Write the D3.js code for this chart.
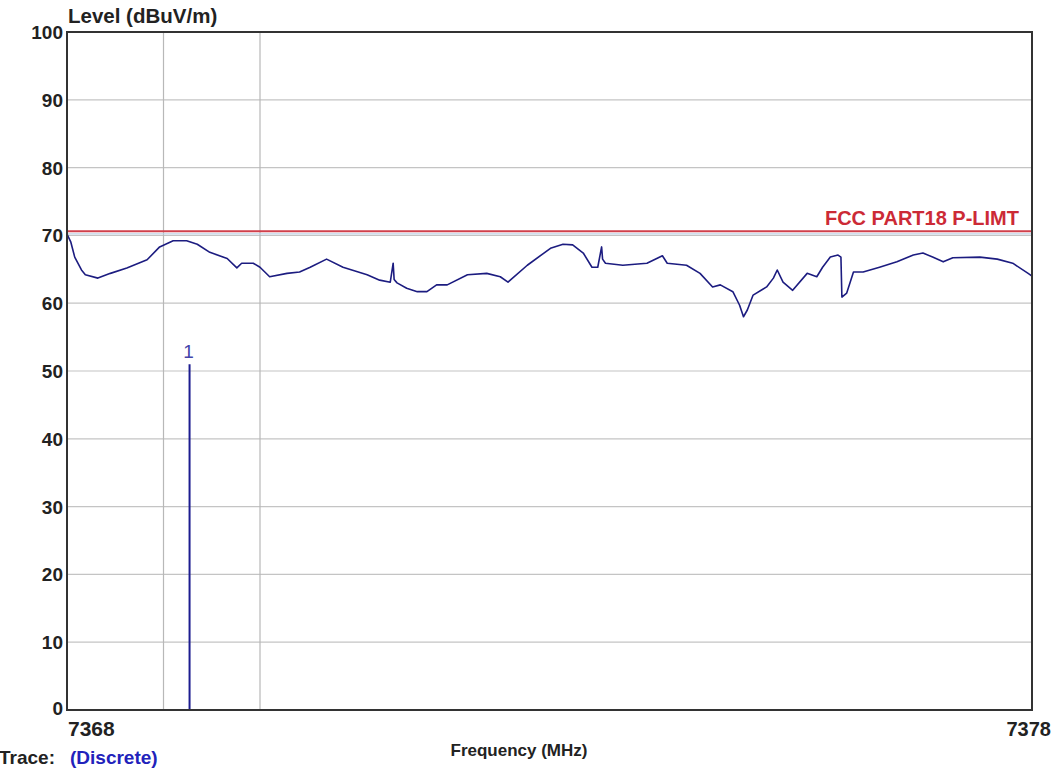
<!DOCTYPE html>
<html><head><meta charset="utf-8">
<script src="https://cdn.jsdelivr.net/npm/d3@7"></script>
<style>
body{margin:0;background:#fff;overflow:hidden}
text{font-family:"Liberation Sans",Arial,sans-serif;font-weight:bold}
</style></head>
<body><svg id="c" width="1053" height="770"></svg>
<script>
// ---- data ----
const yTicks = [0,10,20,30,40,50,60,70,80,90,100];
const xTickLabels = [7368, 7378];
const xGrid = [7369, 7370];
const limitName = "FCC PART18 P-LIMT";
const limitLevel = 70.6;
const markerFreq = [7369.27];
const markerLevel = [51];
const markerLabel = ["1"];
const traceFreq = [7368.00,7368.04,7368.08,7368.15,7368.19,7368.32,7368.45,7368.62,7368.83,7368.96,7369.10,7369.24,7369.35,7369.48,7369.66,7369.76,7369.81,7369.93,7370.00,7370.10,7370.28,7370.41,7370.52,7370.69,7370.86,7371.11,7371.24,7371.35,7371.38,7371.39,7371.42,7371.52,7371.63,7371.73,7371.83,7371.94,7372.15,7372.35,7372.49,7372.57,7372.77,7373.01,7373.14,7373.24,7373.35,7373.44,7373.50,7373.54,7373.55,7373.58,7373.76,7374.01,7374.17,7374.22,7374.42,7374.56,7374.69,7374.77,7374.90,7374.97,7375.01,7375.05,7375.11,7375.25,7375.32,7375.36,7375.42,7375.52,7375.67,7375.77,7375.83,7375.91,7375.99,7376.02,7376.03,7376.08,7376.15,7376.25,7376.42,7376.60,7376.77,7376.87,7376.97,7377.08,7377.18,7377.46,7377.64,7377.80,7377.96,7378.00];
const traceLevel = [70.2,69.0,66.8,64.9,64.2,63.7,64.4,65.2,66.4,68.3,69.2,69.2,68.7,67.5,66.6,65.2,65.9,65.9,65.3,63.9,64.4,64.6,65.3,66.5,65.3,64.2,63.4,63.1,65.9,63.5,63.0,62.2,61.7,61.7,62.7,62.7,64.2,64.4,63.9,63.1,65.6,68.1,68.7,68.6,67.4,65.3,65.3,68.3,66.5,65.9,65.6,65.9,67.0,65.9,65.6,64.4,62.4,62.7,61.7,59.7,58.0,59.0,61.2,62.4,63.7,64.9,63.1,61.9,64.4,63.9,65.3,66.8,67.1,66.8,60.9,61.5,64.6,64.6,65.3,66.1,67.1,67.4,66.8,66.1,66.7,66.8,66.5,65.9,64.4,64.0];

// ---- layout ----
const L=67, R=1032, T=32, B=710;
const svg = d3.select("#c");
const x = d3.scaleLinear().domain([7368,7378]).range([L,R]);
const y = d3.scaleLinear().domain([0,100]).range([B,T]);

// horizontal grid
svg.append("g").selectAll("line").data(yTicks.filter(d=>d>0&&d<100)).join("line")
  .attr("x1",L).attr("x2",R).attr("y1",d=>y(d)).attr("y2",d=>y(d))
  .attr("stroke","#c4c4c4").attr("stroke-width",1.2);
// vertical grid
svg.append("g").selectAll("line").data(xGrid).join("line")
  .attr("x1",d=>x(d)).attr("x2",d=>x(d)).attr("y1",T).attr("y2",B)
  .attr("stroke","#b8b8b8").attr("stroke-width",1.2);

// y tick labels
svg.append("g").selectAll("text").data(yTicks).join("text")
  .attr("x",L-4).attr("y",d=>d===0? y(d)+5 : y(d)+7)
  .attr("text-anchor","end").attr("font-size",19).attr("fill","#222")
  .text(d=>d);
// x tick labels
svg.append("text").attr("x",x(xTickLabels[0])+1).attr("y",B+26).attr("font-size",21).attr("fill","#222").text(xTickLabels[0]);
svg.append("text").attr("x",x(xTickLabels[1])+19).attr("y",B+26).attr("text-anchor","end").attr("font-size",20).attr("fill","#222").text(xTickLabels[1]);

// limit line
svg.append("line").attr("x1",L).attr("x2",R).attr("y1",y(limitLevel)).attr("y2",y(limitLevel))
  .attr("stroke","#d0404c").attr("stroke-width",2);
svg.append("line").attr("x1",L).attr("x2",R).attr("y1",y(limitLevel)+2.5).attr("y2",y(limitLevel)+2.5)
  .attr("stroke","#b8d0e8").attr("stroke-width",1);
svg.append("text").attr("x",R-13).attr("y",y(limitLevel)-6).attr("text-anchor","end")
  .attr("font-size",20).attr("fill","#cc2a36").text(limitName);

// trace
const pts = traceFreq.map((f,i)=>[f,traceLevel[i]]);
svg.append("path").datum(pts)
  .attr("d", d3.line().x(d=>x(d[0])).y(d=>y(d[1])))
  .attr("fill","none").attr("stroke","#1c1c80").attr("stroke-width",1.6).attr("stroke-linejoin","round");

// marker
markerFreq.forEach((f,i)=>{
  svg.append("line").attr("x1",x(f)).attr("x2",x(f)).attr("y1",B).attr("y2",y(markerLevel[i]))
    .attr("stroke","#1c1c90").attr("stroke-width",2);
  svg.append("text").attr("x",x(f)-1).attr("y",y(markerLevel[i])-6).attr("text-anchor","middle")
    .attr("font-size",19).style("font-weight","normal").attr("fill","#4444aa").text(markerLabel[i]);
});

// frame
svg.append("rect").attr("x",L).attr("y",T).attr("width",R-L).attr("height",B-T)
  .attr("fill","none").attr("stroke","#333").attr("stroke-width",2);

// titles
svg.append("text").attr("x",L+1).attr("y",T-9).attr("font-size",20.5).attr("fill","#222").text("Level (dBuV/m)");
svg.append("text").attr("x",519).attr("y",B+46).attr("text-anchor","middle").attr("font-size",17).attr("fill","#222").text("Frequency (MHz)");
svg.append("text").attr("x",55).attr("y",764).attr("text-anchor","end").attr("font-size",19).attr("fill","#222").text("Trace:");
svg.append("text").attr("x",70).attr("y",764).attr("font-size",19).attr("fill","#2222bb").text("(Discrete)");
</script></body></html>
